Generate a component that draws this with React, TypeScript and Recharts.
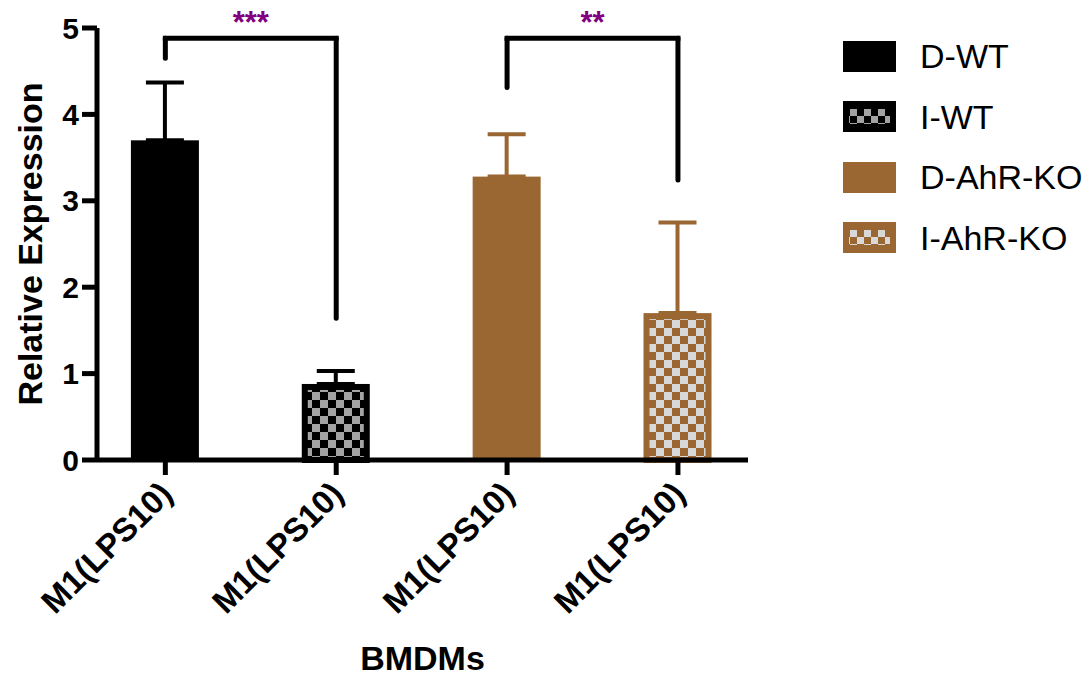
import React from 'react';
import { BarChart, Bar, XAxis, YAxis, ErrorBar, ReferenceLine, Legend, Label } from 'recharts';

const groups = ['D-WT', 'I-WT', 'D-AhR-KO', 'I-AhR-KO'];
const groupX = [1, 2, 3, 4];
const means = [3.7, 0.88, 3.28, 1.7];
const errors = [0.67, 0.15, 0.49, 1.05];
const tickLabels = ['M1(LPS10)', 'M1(LPS10)', 'M1(LPS10)', 'M1(LPS10)'];
const yTicks = [0, 1, 2, 3, 4, 5];
const bracketX = [[1, 2], [3, 4]];
const bracketTop = [4.88, 4.88];
const bracketLeftEnd = [4.65, 4.31];
const bracketRightEnd = [1.64, 3.24];
const bracketStars = ['***', '**'];

const FONT = '"Liberation Sans", Arial, Helvetica, sans-serif';
const BROWN = '#9a6632';
const fills = ['#000000', 'url(#chkWT)', BROWN, 'url(#chkKO)'];
const borders = [null, '#000000', null, BROWN];
const errColors = ['#000000', '#000000', BROWN, BROWN];
const checkerLight = ['', '#a3a3a3', '', '#d8d8d8'];

const data = groupX.map((x, i) => {
  const row: any = { x };
  row[groups[i]] = means[i];
  row[groups[i] + '_err'] = [0, errors[i]];
  return row;
});

const makeShape = (i: number) => (props: any) => {
  const { x, y, width, height } = props;
  if (!height || height <= 0 || !width) return null;
  if (!borders[i]) {
    return <rect x={x} y={y} width={width} height={height} fill={fills[i]} />;
  }
  return (
    <rect
      x={x + 3}
      y={y + 3}
      width={width - 6}
      height={height - 3}
      fill={fills[i]}
      stroke={borders[i] as string}
      strokeWidth={6}
    />
  );
};

const XTick = (props: any) => {
  const { x, y, payload } = props;
  const idx = groupX.indexOf(payload.value);
  return (
    <text
      transform={`translate(${x + 9},${y + 19}) rotate(-45)`}
      textAnchor="end"
      fontFamily={FONT}
      fontWeight="bold"
      fontSize={33}
      fill="#000"
    >
      {tickLabels[idx] ?? ''}
    </text>
  );
};

const starLabel = (stars: string) => (p: any) => {
  const vb = p.viewBox || {};
  const cx = (vb.x ?? 0) + (vb.width ?? 0) / 2;
  return (
    <text
      x={cx}
      y={(vb.y ?? 0) - 5}
      textAnchor="middle"
      fontFamily={FONT}
      fontWeight="bold"
      fontSize={31}
      fill="#800080"
    >
      {stars}
    </text>
  );
};

const Swatch = ({ i }: { i: number }) => {
  const base = i < 2 ? '#000000' : BROWN;
  const id = 'lg' + i;
  return (
    <svg width={53} height={31} style={{ display: 'block', marginRight: 24 }}>
      <defs>
        <pattern id={id} patternUnits="userSpaceOnUse" width={14} height={14} x={7} y={8}>
          <rect width={14} height={14} fill={base} />
          <rect x={0} y={0} width={7} height={7} fill={checkerLight[i] || base} />
          <rect x={7} y={7} width={7} height={7} fill={checkerLight[i] || base} />
        </pattern>
      </defs>
      <rect x={0} y={0} width={53} height={31} fill={base} />
      {borders[i] ? <rect x={6} y={8} width={41} height={15} fill={`url(#${id})`} /> : null}
    </svg>
  );
};

const renderLegend = () => {
  return (
    <div style={{ fontFamily: FONT, fontSize: 34, color: '#000' }}>
      {groups.map((g, i) => (
        <div key={g} style={{ display: 'flex', alignItems: 'center', height: 60.5 }}>
          <Swatch i={i} />
          <span style={{ lineHeight: '34px' }}>{g}</span>
        </div>
      ))}
    </div>
  );
};

export default function App() {
  return (
    <BarChart
      width={1074}
      height={669}
      data={data}
      margin={{ top: 20, right: 334, bottom: 0, left: 0 }}
      style={{ fontFamily: FONT }}
    >
      <defs>
        <pattern id="chkWT" patternUnits="userSpaceOnUse" width={16} height={16}>
          <rect width={16} height={16} fill="#000" />
          <rect x={0} y={0} width={8} height={8} fill={checkerLight[1]} />
          <rect x={8} y={8} width={8} height={8} fill={checkerLight[1]} />
        </pattern>
        <pattern id="chkKO" patternUnits="userSpaceOnUse" width={16} height={16}>
          <rect width={16} height={16} fill={BROWN} />
          <rect x={0} y={0} width={8} height={8} fill={checkerLight[3]} />
          <rect x={8} y={8} width={8} height={8} fill={checkerLight[3]} />
        </pattern>
      </defs>
      {groups.map((g, i) => (
        <Bar
          key={g}
          dataKey={g}
          name={g}
          stackId="s"
          barSize={68}
          fill={fills[i]}
          isAnimationActive={false}
          shape={makeShape(i)}
          legendType="rect"
        >
          <ErrorBar
            dataKey={g + '_err'}
            width={19}
            strokeWidth={4}
            stroke={errColors[i]}
            direction="y"
            isAnimationActive={false}
          />
        </Bar>
      ))}
      {bracketX.map((bx, k) => (
        <ReferenceLine
          key={'h' + k}
          segment={[{ x: bx[0], y: bracketTop[k] }, { x: bx[1], y: bracketTop[k] }]}
          stroke="#000"
          strokeWidth={5}
          strokeLinecap="square"
          ifOverflow="visible"
          label={starLabel(bracketStars[k])}
        />
      ))}
      {bracketX.map((bx, k) => (
        <ReferenceLine
          key={'l' + k}
          segment={[{ x: bx[0], y: bracketTop[k] }, { x: bx[0], y: bracketLeftEnd[k] }]}
          stroke="#000"
          strokeWidth={5}
          strokeLinecap="round"
        />
      ))}
      {bracketX.map((bx, k) => (
        <ReferenceLine
          key={'r' + k}
          segment={[{ x: bx[1], y: bracketTop[k] }, { x: bx[1], y: bracketRightEnd[k] }]}
          stroke="#000"
          strokeWidth={5}
          strokeLinecap="round"
        />
      ))}
      <XAxis
        type="number"
        dataKey="x"
        domain={[0.6, 4.41]}
        ticks={groupX}
        allowDataOverflow
        interval={0}
        height={217}
        tickSize={15}
        tickLine={{ stroke: '#000', strokeWidth: 5 }}
        axisLine={{ stroke: '#000', strokeWidth: 5 }}
        tick={<XTick />}
      >
        <Label
          content={(p: any) => {
            const vb = p.viewBox;
            return (
              <text
                x={vb.x + vb.width / 2}
                y={vb.y + vb.height - 7}
                textAnchor="middle"
                fontFamily={FONT}
                fontWeight="bold"
                fontSize={34}
                fill="#000"
              >
                BMDMs
              </text>
            );
          }}
        />
      </XAxis>
      <YAxis
        type="number"
        domain={[0, 5]}
        ticks={yTicks}
        interval={0}
        width={89}
        tickSize={15}
        tickMargin={3}
        tickLine={{ stroke: '#000', strokeWidth: 5 }}
        axisLine={{ stroke: '#000', strokeWidth: 5 }}
        tick={{ fill: '#000', fontSize: 30, fontWeight: 'bold', fontFamily: FONT }}
      >
        <Label
          content={(p: any) => {
            const vb = p.viewBox;
            const cy = vb.y + vb.height / 2;
            return (
              <text
                x={34}
                y={cy}
                transform={`rotate(-90, 34, ${cy})`}
                textAnchor="middle"
                fontFamily={FONT}
                fontWeight="bold"
                fontSize={34}
                fill="#000"
              >
                Relative Expression
              </text>
            );
          }}
        />
      </YAxis>
      <Legend
        layout="vertical"
        align="center"
        verticalAlign="middle"
        content={renderLegend}
        wrapperStyle={{ left: 835, top: 18, width: 240 }}
      />
    </BarChart>
  );
}
